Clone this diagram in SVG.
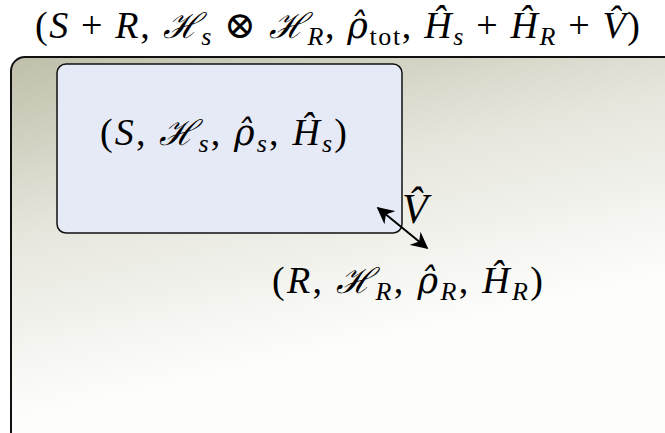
<svg xmlns="http://www.w3.org/2000/svg" width="665" height="433" viewBox="0 0 665 433">
<defs>
<linearGradient id="bg" gradientUnits="userSpaceOnUse" x1="0" y1="57" x2="77" y2="406">
<stop offset="0" stop-color="#bebea9"/>
<stop offset="0.5" stop-color="#e6e6dd"/>
<stop offset="1" stop-color="#fdfdfc"/>
</linearGradient>
<marker id="ah" viewBox="0 0 10 10" refX="9" refY="5" markerWidth="17" markerHeight="17" markerUnits="userSpaceOnUse" orient="auto-start-reverse">
<path d="M0,0 L10,5 L0,10 L3,5 Z" fill="#000"/>
</marker>
<style>
text{font-family:"Liberation Serif","DejaVu Serif",serif;font-size:38px;fill:#000}
.i{font-style:italic}
.sub{font-size:26px}
.cal{font-family:"DejaVu Serif",serif;font-style:italic;font-size:35px}
.rho{font-family:"DejaVu Serif",serif;font-style:italic;font-size:35px}
.v{font-size:42px}
</style>
</defs>
<g id="system_total">
<rect x="11" y="57" width="720" height="440" rx="14" fill="url(#bg)" stroke="#111" stroke-width="2"/>
<text x="35" y="38" textLength="605" lengthAdjust="spacing">(<tspan class="i">S</tspan> + <tspan class="i">R</tspan>, <tspan class="cal">ℋ</tspan><tspan class="i sub" dy="7">s</tspan><tspan dy="-7"> ⊗ </tspan><tspan class="cal">ℋ</tspan><tspan class="i sub" dy="7">R</tspan><tspan dy="-7">, </tspan><tspan class="rho">ρ̂</tspan><tspan class="sub" dy="7">tot</tspan><tspan dy="-7">, </tspan><tspan class="i">Ĥ</tspan><tspan class="i sub" dy="7">s</tspan><tspan dy="-7"> + </tspan><tspan class="i">Ĥ</tspan><tspan class="i sub" dy="7">R</tspan><tspan dy="-7"> + </tspan><tspan class="i">V̂</tspan>)</text>
</g>
<g id="system_S">
<rect x="57" y="64" width="345" height="169" rx="9" fill="#e6eaf6" stroke="#111" stroke-width="1.5"/>
<text x="100" y="145" textLength="247" lengthAdjust="spacing">(<tspan class="i">S</tspan>, <tspan class="cal">ℋ</tspan><tspan class="i sub" dy="7">s</tspan><tspan dy="-7">, </tspan><tspan class="rho">ρ̂</tspan><tspan class="i sub" dy="7">s</tspan><tspan dy="-7">, </tspan><tspan class="i">Ĥ</tspan><tspan class="i sub" dy="7">s</tspan><tspan dy="-7">)</tspan></text>
</g>
<g id="system_R">
<text x="272" y="293" textLength="271" lengthAdjust="spacing">(<tspan class="i">R</tspan>, <tspan class="cal">ℋ</tspan><tspan class="i sub" dy="7">R</tspan><tspan dy="-7">, </tspan><tspan class="rho">ρ̂</tspan><tspan class="i sub" dy="7">R</tspan><tspan dy="-7">, </tspan><tspan class="i">Ĥ</tspan><tspan class="i sub" dy="7">R</tspan><tspan dy="-7">)</tspan></text>
</g>
<g id="connectors">
<line x1="378" y1="208" x2="427" y2="248" stroke="#000" stroke-width="2" marker-start="url(#ah)" marker-end="url(#ah)"/>
<text x="402" y="223" class="i v">V̂</text>
</g>
</svg>
